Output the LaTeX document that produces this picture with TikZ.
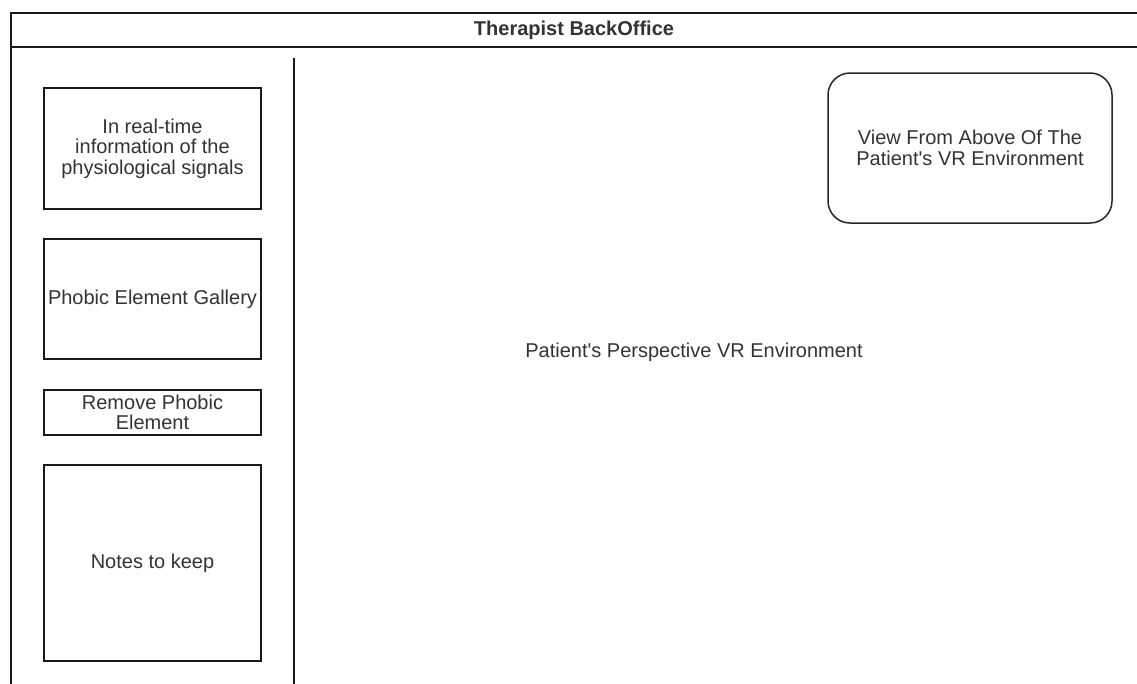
\documentclass[tikz,border=0pt]{standalone}
\usepackage{fontspec}
\setmainfont{Liberation Sans}
\begin{document}
\begin{tikzpicture}[x=1pt,y=-1pt,
  lbl/.style={font=\fontsize{20}{20.5}\selectfont, text=black!80, align=center, inner sep=0pt},
  panel/.style={lbl, draw=black!90, line width=1.5pt, minimum width=217pt},
  roundpanel/.style={lbl, draw=black!85, line width=1.5pt, rounded corners=22pt, minimum width=284pt, minimum height=150pt}]
  \useasboundingbox (0,0) rectangle (1137,683);
  \clip (0,0) rectangle (1137,683);
  % outer frame and header
  \draw[line width=1.5pt, draw=black!90] (11,13) rectangle (1145,700);
  \draw[line width=1.5pt, draw=black!90] (11,47) -- (1145,47);
  \node[lbl, font=\fontsize{20}{21}\selectfont\bfseries] (title) at (574,30) {Therapist BackOffice};
  % divider
  \coordinate (divtop) at (294,58);
  \coordinate (divbot) at (294,700);
  \draw[line width=1.5pt, draw=black!90] (divtop) -- (divbot);
  % left panels
  \node[panel, minimum height=121pt] (signals) at (152.5,148.5) {In real-time\\information of the\\physiological signals};
  \node[panel, minimum height=120pt] (gallery) at (152.5,299) {Phobic Element Gallery};
  \node[panel, minimum height=45pt] (remove) at (152.5,412.5) {Remove Phobic\\Element};
  \node[panel, minimum height=196pt] (notes) at (152.5,563) {Notes to keep};
  % right area
  \node[roundpanel] (above) at (970,148) {View From Above Of The\\Patient\textquotesingle s VR Environment};
  \node[lbl] (persp) at (694,352) {Patient\textquotesingle s Perspective VR Environment};
\end{tikzpicture}
\end{document}
